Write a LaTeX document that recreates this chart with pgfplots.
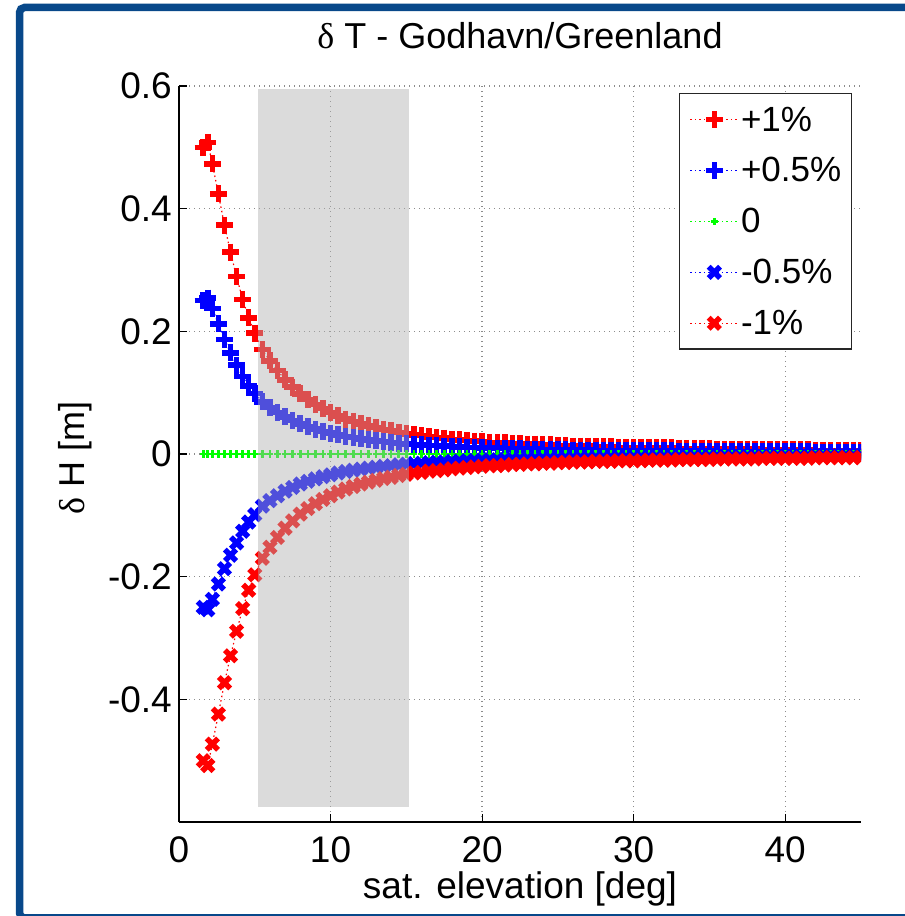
\documentclass[border=0pt]{standalone}
\usepackage{pgfplots}
\pgfplotsset{compat=1.18}
\usepackage{pgfplotstable}
\usepackage{fontspec}
\setmainfont{Liberation Sans}
\newfontfamily\serifgreek{Liberation Serif}
\definecolor{frameblue}{RGB}{8,72,138}
\definecolor{mred}{RGB}{255,0,0}
\definecolor{mblue}{RGB}{0,0,255}
\definecolor{mgreen}{RGB}{0,255,0}

\pgfplotstableread{
e p1 p05 z m05 m1
1.6 0.500 0.250 0 -0.250 -0.500
1.9 0.508 0.254 0 -0.254 -0.508
2.2 0.473 0.237 0 -0.237 -0.473
2.6 0.424 0.212 0 -0.212 -0.424
3.0 0.373 0.187 0 -0.187 -0.373
3.4 0.329 0.165 0 -0.165 -0.329
3.8 0.289 0.145 0 -0.145 -0.289
4.2 0.252 0.126 0 -0.126 -0.252
4.6 0.222 0.111 0 -0.111 -0.222
5.0 0.197 0.099 0 -0.099 -0.197
5.5 0.170 0.085 0 -0.085 -0.170
6.0 0.152 0.076 0 -0.076 -0.152
6.5 0.136 0.068 0 -0.068 -0.136
7.0 0.121 0.0605 0 -0.0605 -0.121
7.5 0.109 0.0545 0 -0.0545 -0.109
8.0 0.098 0.049 0 -0.049 -0.098
8.5 0.089 0.0445 0 -0.0445 -0.089
9.0 0.081 0.0405 0 -0.0405 -0.081
9.5 0.074 0.037 0 -0.037 -0.074
10.0 0.068 0.034 0 -0.034 -0.068
10.5 0.062 0.031 0 -0.031 -0.062
11.0 0.057 0.0285 0 -0.0285 -0.057
11.5 0.053 0.0265 0 -0.0265 -0.053
12.0 0.049 0.0245 0 -0.0245 -0.049
12.5 0.046 0.023 0 -0.023 -0.046
13.0 0.043 0.0215 0 -0.0215 -0.043
13.5 0.040 0.020 0 -0.020 -0.040
14.0 0.038 0.019 0 -0.019 -0.038
14.5 0.035 0.0175 0 -0.0175 -0.035
15.0 0.033 0.0165 0 -0.0165 -0.033
15.5 0.031 0.0155 0 -0.0155 -0.031
16.0 0.030 0.015 0 -0.015 -0.030
16.5 0.028 0.014 0 -0.014 -0.028
17.0 0.027 0.0135 0 -0.0135 -0.027
17.5 0.026 0.013 0 -0.013 -0.026
18.0 0.024 0.012 0 -0.012 -0.024
18.5 0.023 0.0115 0 -0.0115 -0.023
19.0 0.022 0.011 0 -0.011 -0.022
19.5 0.021 0.0105 0 -0.0105 -0.021
20.0 0.020 0.010 0 -0.010 -0.020
20.5 0.019 0.0095 0 -0.0095 -0.019
21.0 0.019 0.0095 0 -0.0095 -0.019
21.5 0.018 0.009 0 -0.009 -0.018
22.0 0.017 0.0085 0 -0.0085 -0.017
22.5 0.017 0.0085 0 -0.0085 -0.017
23.0 0.016 0.008 0 -0.008 -0.016
23.5 0.016 0.008 0 -0.008 -0.016
24.0 0.015 0.0075 0 -0.0075 -0.015
24.5 0.015 0.0075 0 -0.0075 -0.015
25.0 0.014 0.007 0 -0.007 -0.014
25.5 0.014 0.007 0 -0.007 -0.014
26.0 0.013 0.0065 0 -0.0065 -0.013
26.5 0.013 0.0065 0 -0.0065 -0.013
27.0 0.013 0.0065 0 -0.0065 -0.013
27.5 0.012 0.006 0 -0.006 -0.012
28.0 0.012 0.006 0 -0.006 -0.012
28.5 0.012 0.006 0 -0.006 -0.012
29.0 0.011 0.0055 0 -0.0055 -0.011
29.5 0.011 0.0055 0 -0.0055 -0.011
30.0 0.011 0.0055 0 -0.0055 -0.011
30.5 0.011 0.0055 0 -0.0055 -0.011
31.0 0.010 0.005 0 -0.005 -0.010
31.5 0.010 0.005 0 -0.005 -0.010
32.0 0.010 0.005 0 -0.005 -0.010
32.5 0.010 0.005 0 -0.005 -0.010
33.0 0.009 0.0045 0 -0.0045 -0.009
33.5 0.009 0.0045 0 -0.0045 -0.009
34.0 0.009 0.0045 0 -0.0045 -0.009
34.5 0.009 0.0045 0 -0.0045 -0.009
35.0 0.009 0.0045 0 -0.0045 -0.009
35.5 0.008 0.004 0 -0.004 -0.008
36.0 0.008 0.004 0 -0.004 -0.008
36.5 0.008 0.004 0 -0.004 -0.008
37.0 0.008 0.004 0 -0.004 -0.008
37.5 0.008 0.004 0 -0.004 -0.008
38.0 0.008 0.004 0 -0.004 -0.008
38.5 0.007 0.0035 0 -0.0035 -0.007
39.0 0.007 0.0035 0 -0.0035 -0.007
39.5 0.007 0.0035 0 -0.0035 -0.007
40.0 0.007 0.0035 0 -0.0035 -0.007
40.5 0.007 0.0035 0 -0.0035 -0.007
41.0 0.007 0.0035 0 -0.0035 -0.007
41.5 0.007 0.0035 0 -0.0035 -0.007
42.0 0.006 0.003 0 -0.003 -0.006
42.5 0.006 0.003 0 -0.003 -0.006
43.0 0.006 0.003 0 -0.003 -0.006
43.5 0.006 0.003 0 -0.003 -0.006
44.0 0.006 0.003 0 -0.003 -0.006
44.5 0.006 0.003 0 -0.003 -0.006
45.0 0.006 0.003 0 -0.003 -0.006
}\datatab

\begin{document}
\begin{tikzpicture}[x=1pt,y=1pt]
\useasboundingbox (0,0) rectangle (905,916);
\fill[white] (0,0) rectangle (905,916);
\begin{scope}
\clip (0,0) rectangle (905,916);
\draw[frameblue, line width=7.5pt, rounded corners=5pt] (19.5,-2) rectangle (930,908.5);
\end{scope}
\begin{axis}[
  at={(179pt,94pt)}, anchor=south west,
  scale only axis, width=682pt, height=736pt,
  xmin=0, xmax=45, ymin=-0.6, ymax=0.6,
  clip marker paths=true,
  axis lines=left,
  axis line style={-, line width=1.6pt, black},
  xtick={0,10,20,30,40}, xticklabels={0,10,20,30,40},
  ytick={-0.4,-0.2,0,0.2,0.4,0.6}, yticklabels={-0.4,-0.2,0,0.2,0.4,0.6},
  tick align=inside, major tick length=8pt,
  tick style={line width=1.2pt, black},
  grid=major,
  grid style={line width=1.3pt, black!45, dash pattern=on 1.3pt off 3.7pt},
  xticklabel style={font=\fontsize{37}{40}\selectfont, inner sep=0pt, text depth=0pt, yshift=-14pt},
  yticklabel style={font=\fontsize{37}{40}\selectfont, inner sep=0pt, xshift=-7pt},
  title={{\serifgreek δ} T - Godhavn/Greenland},
  title style={font=\fontsize{36}{40}\selectfont, at={(axis description cs:0.5,1.0598)}, anchor=center},
  xlabel={sat. elevation [deg]},
  xlabel style={font=\fontsize{37}{40}\selectfont, inner sep=0pt, at={(axis description cs:0.5,-0.091)}, anchor=center},
  ylabel={{\serifgreek δ} H [m]},
  ylabel style={font=\fontsize{36}{40}\selectfont, at={(axis description cs:-0.1525,0.495)}, anchor=center},
  legend image code/.code={\draw[mark repeat=2, mark phase=2, #1] plot coordinates {(0pt,0pt) (24pt,0pt) (48pt,0pt)};},
  legend style={at={(1,1)}, anchor=north east, xshift=-9pt, yshift=-7pt,
    font=\fontsize{35}{40}\selectfont, draw=black!85, line width=1.5pt,
    inner xsep=10pt, inner ysep=13pt, row sep=25pt, column sep=2pt,
    nodes={inner sep=0pt, anchor=west}},
  legend cell align=left,
]
\addplot[mred, line width=1.2pt, dash pattern=on 1.5pt off 3pt, mark=+, mark size=8.5pt, mark options={solid, line width=5.5pt}] table[x=e, y=p1] {\datatab};
\addlegendentry{+1\%}
\addplot[mblue, line width=1.2pt, dash pattern=on 1.5pt off 3pt, mark=+, mark size=8.5pt, mark options={solid, line width=5.5pt}] table[x=e, y=p05] {\datatab};
\addlegendentry{+0.5\%}
\addplot[mgreen, line width=1.4pt, dash pattern=on 1.5pt off 3pt, mark=+, mark size=3.5pt, mark options={solid, line width=2.6pt}] table[x=e, y=z] {\datatab};
\addlegendentry{0}
\addplot[mblue, line width=1.2pt, dash pattern=on 1.5pt off 3pt, mark=x, mark size=8pt, mark options={solid, line width=5.5pt}] table[x=e, y=m05] {\datatab};
\addlegendentry{-0.5\%}
\addplot[mred, line width=1.2pt, dash pattern=on 1.5pt off 3pt, mark=x, mark size=8pt, mark options={solid, line width=5.5pt}] table[x=e, y=m1] {\datatab};
\addlegendentry{-1\%}
\addplot[draw=none, fill=black!31, fill opacity=0.45, forget plot] coordinates {(5.2,-0.575) (15.2,-0.575) (15.2,0.595) (5.2,0.595)};
\end{axis}
\end{tikzpicture}
\end{document}
